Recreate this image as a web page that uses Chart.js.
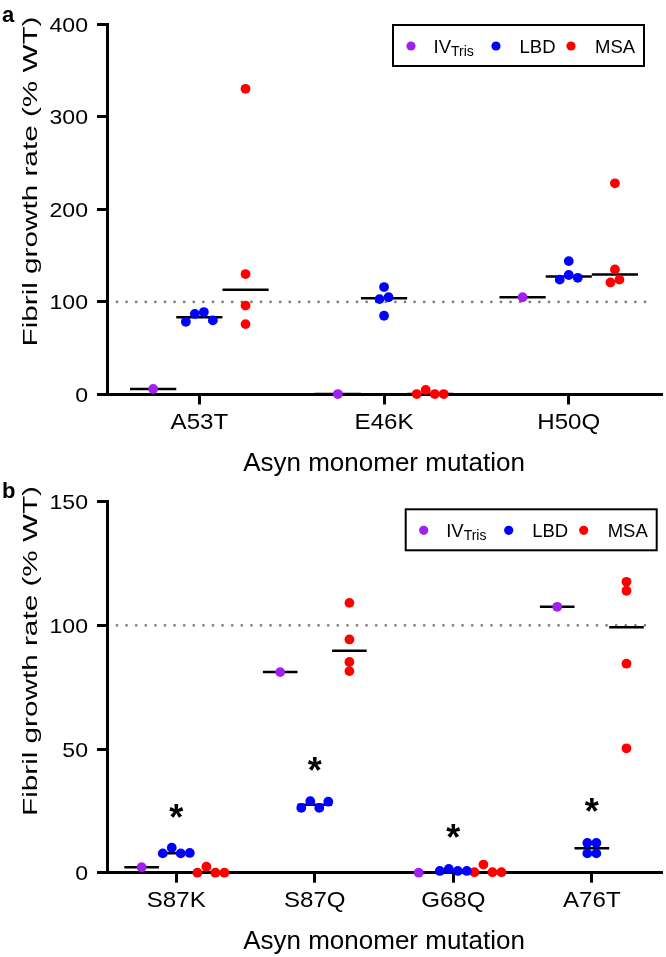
<!DOCTYPE html>
<html>
<head>
<meta charset="utf-8">
<script src="https://cdn.jsdelivr.net/npm/chart.js@4.4.1/dist/chart.umd.min.js"></script>
<style>
  html, body { margin: 0; padding: 0; background: #fff; }
  #wrap { position: relative; width: 666px; height: 957px; }
  canvas { position: absolute; left: 0; }
  #panelA { top: 0; }
  #panelB { top: 480px; }
</style>
</head>
<body>
<div id="wrap">
  <canvas id="panelA" width="666" height="480"></canvas>
  <canvas id="panelB" width="666" height="477"></canvas>
</div>
<script>
// panel a values (% WT), one list per mutation, read left to right
const mutationsA = ['A53T', 'E46K', 'H50Q'];
const ivTrisA = [[6], [0.5], [105]];
const lbdA = [[78.5, 87, 89, 80], [103, 116, 85, 105], [124, 144, 129, 126]];
const msaA = [[330, 130, 96, 76], [0.5, 5, 0.5, 0.5], [121, 228, 135, 124]];
const yTicksA = [0, 100, 200, 300, 400];

// panel b
const mutationsB = ['S87K', 'S87Q', 'G68Q', 'A76T'];
const ivTrisB = [[2.2], [81.1], [0], [107.5]];
const lbdB = [[7.8, 10.1, 7.8, 8], [26.2, 28.9, 26.2, 28.7], [0.7, 1.5, 0.7, 0.7], [12, 7.8, 12, 7.8]];
const msaB = [[0, 2.4, 0, 0], [109.1, 94.3, 85.2, 81.5], [0.2, 3.3, 0.2, 0.2], [117.6, 114, 84.5, 50.3]];
const starsB = [25, 44, 17, 27.5]; // height of the * over each LBD group
const yTicksB = [0, 50, 100, 150];

const wtLevel = 100;

const FONT = '"Liberation Sans", Arial, sans-serif';

const series = [
  { label: 'IV', sub: 'Tris', color: 'rgb(160, 32, 240)', shift: -0.25 },
  { label: 'LBD', color: 'rgb(0, 0, 255)', shift: 0 },
  { label: 'MSA', color: 'rgb(255, 0, 0)', shift: 0.25 }
];

function median(arr) {
  const s = arr.slice().sort((a, b) => a - b);
  const m = s.length >> 1;
  return s.length % 2 ? s[m] : (s[m - 1] + s[m]) / 2;
}

// spread overlapping dots side by side, like a Prism scatter-dot plot
const swarm = {
  id: 'swarm',
  afterDatasetsUpdate(chart) {
    chart.data.datasets.forEach((ds, di) => {
      const pts = chart.getDatasetMeta(di).data;
      const byCat = {};
      ds.data.forEach((d, i) => (byCat[d.cat] = byCat[d.cat] || []).push(i));
      Object.values(byCat).forEach(idx => {
        const order = idx.slice().sort((a, b) => pts[a].y - pts[b].y);
        const rows = [[order[0]]];
        for (let k = 1; k < order.length; k++) {
          if (pts[order[k]].y - pts[order[k - 1]].y < 8) rows[rows.length - 1].push(order[k]);
          else rows.push([order[k]]);
        }
        rows.forEach(row => {
          row.sort((a, b) => a - b);
          row.forEach((i, k) => { pts[i].x += (k - (row.length - 1) / 2) * 9; });
        });
      });
    });
  }
};

const medians = {
  id: 'medians',
  beforeDatasetsDraw(chart) {
    const { ctx, chartArea: a, scales: { x, y } } = chart;
    ctx.save();
    // dotted WT line
    const wy = y.getPixelForValue(wtLevel);
    ctx.strokeStyle = '#7f7f7f';
    ctx.lineWidth = 2.8;
    ctx.lineCap = 'round';
    ctx.setLineDash([0, 9.6]);
    ctx.beginPath();
    ctx.moveTo(a.left + 10, wy);
    ctx.lineTo(a.right - 12, wy);
    ctx.stroke();

    ctx.setLineDash([]);
    ctx.lineCap = 'butt';
    ctx.strokeStyle = '#000';
    ctx.lineWidth = 2.5;
    chart.data.datasets.forEach(ds => {
      ds.groups.forEach((vals, c) => {
        const m = y.getPixelForValue(median(vals));
        ctx.beginPath();
        ctx.moveTo(x.getPixelForValue(c + ds.shift - 0.125), m);
        ctx.lineTo(x.getPixelForValue(c + ds.shift + 0.125), m);
        ctx.stroke();
      });
    });
    ctx.restore();
  }
};

function text(ctx, str, x, y, size, align, sx, weight) {
  ctx.save();
  ctx.font = (weight || 'normal') + ' ' + size + 'px ' + FONT;
  ctx.textAlign = align;
  ctx.textBaseline = 'alphabetic';
  ctx.translate(x, y);
  ctx.scale(sx, 1);
  ctx.fillText(str, 0, 0);
  ctx.restore();
}

function drawLegend(ctx, left, top) {
  ctx.save();
  ctx.strokeStyle = '#000';
  ctx.lineWidth = 2;
  ctx.strokeRect(left, top, 251, 41);
  const dotX = [18, 103, 178], txtX = [40.5, 126.5, 202];
  series.forEach((s, i) => {
    ctx.fillStyle = s.color;
    ctx.beginPath();
    ctx.arc(left + dotX[i], top + 21, 4.6, 0, Math.PI * 2);
    ctx.fill();
    ctx.fillStyle = '#000';
    ctx.textAlign = 'left';
    ctx.font = '18.5px ' + FONT;
    ctx.fillText(s.label, left + txtX[i], top + 28);
    if (s.sub) {
      const w = ctx.measureText(s.label).width;
      ctx.font = '14px ' + FONT;
      ctx.fillText(s.sub, left + txtX[i] + w, top + 31);
    }
  });
  ctx.restore();
}

const panelText = {
  id: 'panelText',
  afterDraw(chart, args, o) {
    const { ctx, chartArea: a, scales: { x, y } } = chart;
    ctx.save();
    ctx.fillStyle = '#000';
    y.ticks.forEach(t => text(ctx, String(t.value), 88, y.getPixelForValue(t.value) + 7.5, 21, 'right', 1.1));
    x.ticks.forEach(t => text(ctx, o.names[t.value], x.getPixelForValue(t.value), a.bottom + 34.5, 21.5, 'center', 1.12));
    text(ctx, 'Asyn monomer mutation', (a.left + a.right) / 2, a.bottom + 76, 26, 'center', 1);

    // y title, drawn long and narrow like the original
    const yt = 'Fibril growth rate (% WT)';
    ctx.save();
    ctx.font = '20px ' + FONT;
    const w = ctx.measureText(yt).width;
    ctx.translate(36.5, o.titleY);
    ctx.rotate(-Math.PI / 2);
    ctx.scale(330 / w, 1);
    ctx.textAlign = 'center';
    ctx.fillText(yt, 0, 0);
    ctx.restore();

    text(ctx, o.letter, 2, o.letterY, 22, 'left', 1, 'bold');

    if (o.stars) {
      ctx.font = 'bold 36px ' + FONT;
      ctx.textAlign = 'center';
      const m = ctx.measureText('*');
      const mid = (m.actualBoundingBoxAscent - m.actualBoundingBoxDescent) / 2;
      o.stars.forEach((v, c) => ctx.fillText('*', x.getPixelForValue(c), y.getPixelForValue(v) + mid));
    }
    ctx.restore();
    drawLegend(ctx, o.legend[0], o.legend[1]);
  }
};

function makeChart(id, p) {
  const groups = [p.iv, p.lbd, p.msa];
  const axisStyle = {
    grid: { drawOnChartArea: false, drawTicks: true, tickLength: 10, lineWidth: 3, color: '#000' },
    border: { display: true, width: 3, color: '#000' },
    ticks: { display: false }
  };
  new Chart(document.getElementById(id), {
    type: 'scatter',
    data: {
      datasets: series.map((s, si) => ({
        label: s.label,
        shift: s.shift,
        groups: groups[si],
        data: groups[si].flatMap((vals, c) => vals.map(v => ({ x: c + s.shift, y: v, cat: c }))),
        backgroundColor: s.color,
        pointRadius: 4.9,
        pointBorderWidth: 0,
        clip: false
      }))
    },
    options: {
      responsive: false,
      animation: false,
      events: [],
      layout: { padding: { top: p.top, right: 1, left: 0, bottom: 0 } },
      scales: {
        x: {
          ...axisStyle,
          type: 'linear',
          min: -0.5,
          max: p.names.length - 0.5,
          afterBuildTicks: sc => { sc.ticks = p.names.map((n, i) => ({ value: i })); },
          afterFit: sc => { sc.height = p.axisH; }
        },
        y: {
          ...axisStyle,
          type: 'linear',
          min: p.yTicks[0],
          max: p.yTicks[p.yTicks.length - 1],
          afterBuildTicks: sc => { sc.ticks = p.yTicks.map(v => ({ value: v })); },
          afterFit: sc => { sc.width = 107; }
        }
      },
      plugins: {
        legend: { display: false },
        tooltip: { enabled: false },
        panelText: {
          names: p.names, stars: p.stars, letter: p.letter,
          letterY: p.letterY, titleY: p.titleY, legend: p.legend
        }
      }
    },
    plugins: [swarm, medians, panelText]
  });
}

makeChart('panelA', {
  names: mutationsA, iv: ivTrisA, lbd: lbdA, msa: msaA, yTicks: yTicksA,
  top: 24, axisH: 85.5, letter: 'a', letterY: 21.7, titleY: 181.5, legend: [393, 25]
});

makeChart('panelB', {
  names: mutationsB, iv: ivTrisB, lbd: lbdB, msa: msaB, yTicks: yTicksB, stars: starsB,
  top: 21.7, axisH: 84.3, letter: 'b', letterY: 18, titleY: 171, legend: [405.7, 29.3]
});
</script>
</body>
</html>
